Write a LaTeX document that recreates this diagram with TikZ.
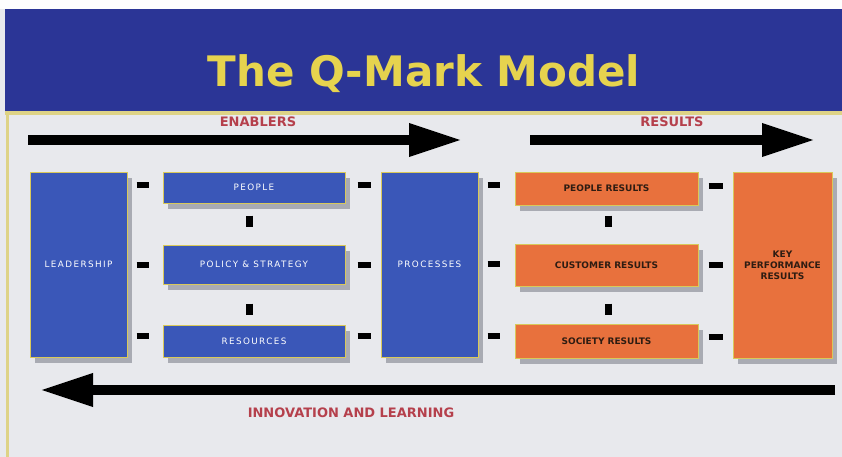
\documentclass[tikz,border=0pt]{standalone}
\usepackage{fontspec}
\setmainfont{DejaVu Sans}
\newfontfamily\spacedfont[LetterSpace=16]{DejaVu Sans}
\usetikzlibrary{arrows.meta,shadows}
\definecolor{bg}{HTML}{E8E9ED}
\definecolor{banner}{HTML}{2B3596}
\definecolor{boxblue}{HTML}{3A57B8}
\definecolor{boxorange}{HTML}{E8713D}
\definecolor{titleyellow}{HTML}{E6D34E}
\definecolor{labelred}{HTML}{B5404C}
\definecolor{rim}{HTML}{D9C95A}
\definecolor{shade}{HTML}{A9ABB3}
\definecolor{darktext}{HTML}{2E1C12}
\tikzset{
  box/.style={draw=rim, line width=1pt, inner sep=0pt, align=center,
    drop shadow={shadow xshift=5pt, shadow yshift=-6pt, fill=shade, opacity=1}},
  bluebox/.style={box, fill=boxblue, text=white, font=\spacedfont\fontsize{8.8}{10}\selectfont},
  orangebox/.style={box, fill=boxorange, text=darktext, font=\bfseries\fontsize{9}{11}\selectfont},
  link/.style={draw=black, line width=6pt, line cap=butt},
  vlink/.style={draw=black, line width=7pt, line cap=butt},
  bigarrow/.style={draw=black, line width=9.5pt, -{Triangle[length=53pt,width=31pt]}},
  sectionlabel/.style={text=labelred, font=\bfseries\fontsize{13}{15}\selectfont, inner sep=0pt}
}
\begin{document}
\begin{tikzpicture}[x=1pt,y=-1pt]
\useasboundingbox (0,0) rectangle (842,457);
% background
\fill[bg] (0,0) rectangle (842,457);
\fill[white!95!bg] (0,0) rectangle (842,9);
\fill[banner] (5,9) rectangle (842,111);
\fill[rim!70!bg] (5,111) rectangle (842,115);
\fill[rim!70!bg] (6,111) rectangle (8.5,457);
% title
\node[anchor=base, text=titleyellow, font=\bfseries\fontsize{42}{48}\selectfont, inner sep=0pt] (title) at (424,87) {The Q-Mark Model};
% section labels
\node[sectionlabel] (enablers) at (258,122) {ENABLERS};
\node[sectionlabel] (results) at (672,122) {RESULTS};
\node[sectionlabel] (innov) at (351,413) {INNOVATION AND LEARNING};
% big arrows
\coordinate (e1s) at (28,140);
\coordinate (e1e) at (462,140);
\coordinate (r1s) at (530,140);
\coordinate (r1e) at (815,140);
\coordinate (ils) at (835,390);
\coordinate (ile) at (40,390);
\draw[bigarrow] (e1s) -- (e1e);
\draw[bigarrow] (r1s) -- (r1e);
\draw[bigarrow] (ils) -- (ile);
% boxes
\node[bluebox, minimum width=97pt, minimum height=185pt] (lead) at (78.5,264.5) {LEADERSHIP};
\node[bluebox, minimum width=182pt, minimum height=31pt] (people) at (254,187.5) {PEOPLE};
\node[bluebox, minimum width=182pt, minimum height=39pt] (policy) at (254,264.5) {POLICY \& STRATEGY};
\node[bluebox, minimum width=182pt, minimum height=32pt] (resources) at (254,341) {RESOURCES};
\node[bluebox, minimum width=97pt, minimum height=185pt] (proc) at (429.5,264.5) {PROCESSES};
\node[orangebox, minimum width=183pt, minimum height=33pt] (presults) at (606.5,188.5) {PEOPLE RESULTS};
\node[orangebox, minimum width=183pt, minimum height=42pt] (cresults) at (606.5,265) {CUSTOMER RESULTS};
\node[orangebox, minimum width=183pt, minimum height=34pt] (sresults) at (606.5,341) {SOCIETY RESULTS};
\node[orangebox, minimum width=99pt, minimum height=186pt] (kpr) at (782.5,265) {KEY\\PERFORMANCE\\RESULTS};
% row levels for the short links
\coordinate (pw) at ([yshift=3pt]people.west);
\coordinate (pe) at ([yshift=3pt]people.east);
\coordinate (rw) at ([yshift=5pt]resources.west);
\coordinate (re) at ([yshift=5pt]resources.east);
\coordinate (prw) at ([yshift=4pt]presults.west);
\coordinate (pre) at ([yshift=3pt]presults.east);
\coordinate (crw) at ([yshift=1pt]cresults.west);
\coordinate (srw) at ([yshift=5pt]sresults.west);
\coordinate (sre) at ([yshift=4pt]sresults.east);
% leadership -> enablers
\draw[link, shorten <=9pt, shorten >=14pt] (lead.east |- pw) -- (pw);
\draw[link, shorten <=9pt, shorten >=14pt] (lead.east |- policy.west) -- (policy.west);
\draw[link, shorten <=9pt, shorten >=14pt] (lead.east |- rw) -- (rw);
% enablers -> processes
\draw[link, shorten <=12pt, shorten >=10pt] (pe) -- (proc.west |- pe);
\draw[link, shorten <=12pt, shorten >=10pt] (policy.east) -- (proc.west |- policy.east);
\draw[link, shorten <=12pt, shorten >=10pt] (re) -- (proc.west |- re);
% processes -> results
\draw[link, shorten <=9pt, shorten >=15pt] (proc.east |- prw) -- (prw);
\draw[link, shorten <=9pt, shorten >=15pt] (proc.east |- crw) -- (crw);
\draw[link, shorten <=9pt, shorten >=15pt] (proc.east |- srw) -- (srw);
% results -> key performance results
\draw[link, shorten <=10pt, shorten >=10pt] (pre) -- (kpr.west |- pre);
\draw[link, shorten <=10pt, shorten >=10pt] (cresults.east) -- (kpr.west |- cresults.east);
\draw[link, shorten <=10pt, shorten >=10pt] (sre) -- (kpr.west |- sre);
% vertical links
\draw[vlink, shorten <=12pt, shorten >=18pt] ([xshift=-5pt]people.south) -- ([xshift=-5pt]policy.north);
\draw[vlink, shorten <=19pt, shorten >=10pt] ([xshift=-5pt]policy.south) -- ([xshift=-5pt]resources.north);
\draw[vlink, shorten <=10pt, shorten >=17pt] ([xshift=1.5pt]presults.south) -- ([xshift=1.5pt]cresults.north);
\draw[vlink, shorten <=17pt, shorten >=9pt] ([xshift=1.5pt]cresults.south) -- ([xshift=1.5pt]sresults.north);
\end{tikzpicture}
\end{document}
